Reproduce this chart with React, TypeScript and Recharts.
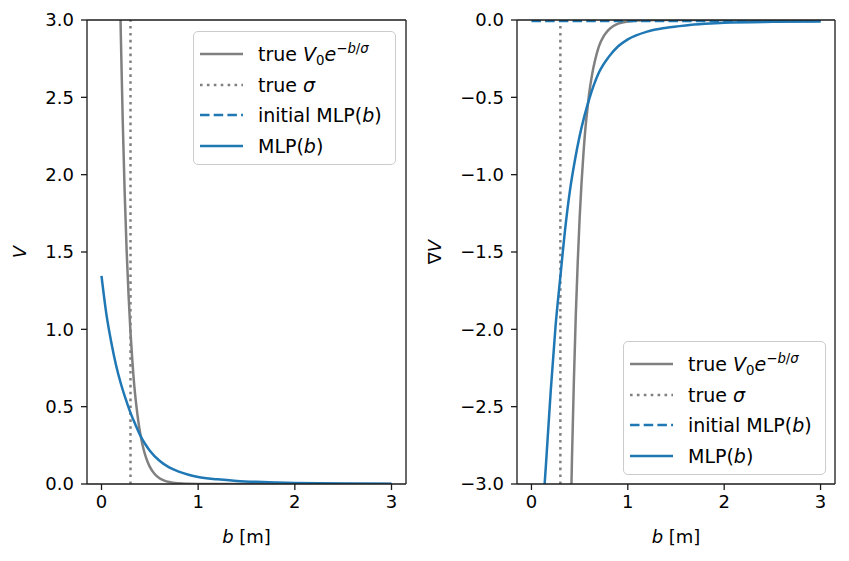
import React from 'react';
import { LineChart, Line, XAxis, YAxis, ReferenceLine, Legend, Label } from 'recharts';

const FONT = '"DejaVu Sans", Verdana, sans-serif';
const GRAY = '#808080';
const BLUE = '#1f77b4';
const AXIS = '#1a1a1a';

// ---------- ticks ----------
const bTicks = [0, 1, 2, 3];
const vTicks = [0, 0.5, 1, 1.5, 2, 2.5, 3];
const gradTicks = [-3, -2.5, -2, -1.5, -1, -0.5, 0];
const bDomain: [number, number] = [-0.15, 3.15];
const vDomain: [number, number] = [0, 3];
const gradDomain: [number, number] = [-3, 0];
const trueSigma = 0.3;

// ---------- left panel: V(b) ----------
const trueV_b = [0.18, 0.2, 0.22, 0.24, 0.26, 0.28, 0.3, 0.32, 0.34, 0.36, 0.38, 0.4, 0.43, 0.46, 0.5, 0.55, 0.6, 0.65, 0.7, 0.8, 0.9, 1.0, 1.5, 2.0, 2.5, 3.0];
const trueV_v = [3.61, 2.9, 2.34, 1.88, 1.51, 1.22, 0.98, 0.79, 0.63, 0.51, 0.41, 0.33, 0.238, 0.172, 0.111, 0.065, 0.0375, 0.022, 0.0127, 0.0043, 0.0015, 0.0005, 0, 0, 0, 0];

const mlpV_b = [0, 0.05, 0.1, 0.15, 0.2, 0.25, 0.3, 0.35, 0.4, 0.45, 0.5, 0.6, 0.7, 0.8, 0.9, 1.0, 1.2, 1.4, 1.6, 1.8, 2.0, 2.5, 3.0];
const mlpV_v = [1.345, 1.1, 0.92, 0.77, 0.65, 0.55, 0.46, 0.385, 0.315, 0.26, 0.215, 0.15, 0.107, 0.08, 0.06, 0.045, 0.03, 0.02, 0.014, 0.01, 0.007, 0.003, 0.001];

const initV_b = [0, 3.0];
const initV_v = [-0.01, -0.01];

// ---------- right panel: grad V(b) ----------
const trueG_b = [0.39, 0.4, 0.42, 0.44, 0.46, 0.48, 0.5, 0.52, 0.54, 0.56, 0.58, 0.6, 0.63, 0.66, 0.7, 0.75, 0.8, 0.85, 0.9, 1.0, 1.2, 1.5, 2.0, 3.0];
const trueG_v = [-3.85, -3.48, -2.85, -2.34, -1.91, -1.57, -1.28, -1.05, -0.86, -0.7, -0.58, -0.47, -0.35, -0.26, -0.17, -0.105, -0.064, -0.039, -0.023, -0.009, -0.001, 0, 0, 0];

const mlpG_b = [0, 0.05, 0.1, 0.15, 0.2, 0.25, 0.3, 0.35, 0.4, 0.45, 0.5, 0.55, 0.6, 0.7, 0.8, 0.9, 1.0, 1.2, 1.4, 1.6, 1.8, 2.0, 2.5, 3.0];
const mlpG_v = [-4.8, -4.0, -3.35, -2.88, -2.4, -1.98, -1.66, -1.35, -1.1, -0.91, -0.75, -0.62, -0.51, -0.34, -0.24, -0.17, -0.125, -0.075, -0.05, -0.035, -0.025, -0.018, -0.012, -0.01];

const initG_b = [0, 3.0];
const initG_v = [-0.006, -0.006];

type Pt = { b: number; v: number };
const zip = (bs: number[], vs: number[]): Pt[] => bs.map((b, i) => ({ b, v: vs[i] }));

const trueV = zip(trueV_b, trueV_v);
const mlpV = zip(mlpV_b, mlpV_v);
const initV = zip(initV_b, initV_v);
const trueG = zip(trueG_b, trueG_v);
const mlpG = zip(mlpG_b, mlpG_v);
const initG = zip(initG_b, initG_v);

// ---------- styles ----------
const LW = 2.5;
const DOTTED = '2.6 4.3';
const DASHED = '9.5 4.2';
const tickStyle = { fontSize: 18, fill: '#000', fontFamily: FONT };
const axisLineStyle = { stroke: AXIS, strokeWidth: 1.3 };

const fmtNum = (v: number) => (v < 0 ? '\u2212' : '') + Math.abs(v).toFixed(1);
const fmtInt = (v: number) => String(v);

// ---------- legend ----------
const I = ({ children }: { children: React.ReactNode }) => <span style={{ fontStyle: 'italic' }}>{children}</span>;
const supStyle: React.CSSProperties = { fontSize: '0.7em', position: 'relative', top: '-0.62em', lineHeight: 0 };
const subStyle: React.CSSProperties = { fontSize: '0.7em', position: 'relative', top: '0.28em', lineHeight: 0 };

type LegendItem = { color: string; dash?: string; label: React.ReactNode };
const legendItems: LegendItem[] = [
  {
    color: GRAY,
    label: (
      <>
        true <I>V</I>
        <span style={subStyle}>0</span>
        <I>e</I>
        <span style={supStyle}>
          {'\u2212'}
          <I>b</I>/<I>σ</I>
        </span>
      </>
    ),
  },
  { color: GRAY, dash: DOTTED, label: <>true <I>σ</I></> },
  { color: BLUE, dash: DASHED, label: <>initial MLP(<I>b</I>)</> },
  { color: BLUE, label: <>MLP(<I>b</I>)</> },
];
const rowCenters = [21.8, 52.5, 83.0, 113.5];

const LegendBox = () => (
  <div
    style={{
      position: 'relative',
      width: 203,
      height: 134,
      boxSizing: 'border-box',
      border: '1.3px solid #cccccc',
      borderRadius: 5,
      background: 'rgba(255,255,255,0.8)',
      fontFamily: FONT,
      fontSize: 19,
      color: '#000',
    }}
  >
    {legendItems.map((it, i) => (
      <div
        key={i}
        style={{
          position: 'absolute',
          left: 0,
          top: rowCenters[i] - 15,
          height: 30,
          display: 'flex',
          alignItems: 'center',
          whiteSpace: 'nowrap',
        }}
      >
        <svg width={43} height={6} style={{ marginLeft: 6, flex: 'none', display: 'block' }}>
          <line x1={0} y1={3} x2={43} y2={3} stroke={it.color} strokeWidth={LW} strokeDasharray={it.dash} />
        </svg>
        <span style={{ marginLeft: 15, lineHeight: '30px' }}>{it.label}</span>
      </div>
    ))}
  </div>
);

// ---------- axis labels ----------
const XLabelContent = (props: any) => {
  const vb = props.viewBox || { x: 0, y: 0, width: 0, height: 0 };
  return (
    <text x={vb.x + vb.width / 2} y={vb.y + 59} textAnchor="middle" fontSize={18} fontFamily={FONT} fill="#000">
      <tspan fontStyle="italic">b</tspan>
      <tspan>{' [m]'}</tspan>
    </text>
  );
};

const makeYLabel = (offsetX: number, grad: boolean) => (props: any) => {
  const vb = props.viewBox || { x: 0, y: 0, width: 0, height: 0 };
  const cx = vb.x + offsetX;
  const cy = vb.y + vb.height / 2;
  return (
    <text
      x={cx}
      y={cy}
      transform={`rotate(-90 ${cx} ${cy})`}
      textAnchor="middle"
      dy="0.36em"
      fontSize={18}
      fontFamily={FONT}
      fill="#000"
    >
      {grad ? <tspan>∇</tspan> : null}
      <tspan fontStyle="italic">V</tspan>
    </text>
  );
};

const H = 561;
const LEFT_W = 425;
const RIGHT_W = 424;

export default function App() {
  return (
    <div style={{ position: 'absolute', left: 0, top: 0, width: 849, height: H, background: '#fff', display: 'flex' }}>
      {/* Left panel */}
      <LineChart width={LEFT_W} height={H} margin={{ top: 20, right: 19, bottom: 0, left: 0 }}>
        <XAxis
          dataKey="b"
          type="number"
          domain={bDomain}
          allowDataOverflow
          ticks={bTicks}
          tickFormatter={fmtInt}
          height={77}
          tickSize={6}
          tickMargin={5}
          tick={tickStyle}
          axisLine={axisLineStyle}
          tickLine={axisLineStyle}
        >
          <Label content={XLabelContent} />
        </XAxis>
        <YAxis
          type="number"
          domain={vDomain}
          allowDataOverflow
          ticks={vTicks}
          tickFormatter={fmtNum}
          width={87}
          tickSize={6}
          tickMargin={7}
          tick={tickStyle}
          axisLine={axisLineStyle}
          tickLine={axisLineStyle}
        >
          <Label content={makeYLabel(20, false)} />
        </YAxis>
        <Line data={trueV} dataKey="v" type="monotone" stroke={GRAY} strokeWidth={LW} dot={false} activeDot={false} isAnimationActive={false} />
        <ReferenceLine x={trueSigma} stroke={GRAY} strokeWidth={LW} strokeDasharray={DOTTED} />
        <Line data={initV} dataKey="v" type="linear" stroke={BLUE} strokeWidth={LW} strokeDasharray={DASHED} dot={false} activeDot={false} isAnimationActive={false} />
        <Line data={mlpV} dataKey="v" type="monotone" stroke={BLUE} strokeWidth={LW} dot={false} activeDot={false} isAnimationActive={false} />
        <ReferenceLine y={vDomain[1]} stroke={AXIS} strokeWidth={1.3} />
        <ReferenceLine x={bDomain[1]} stroke={AXIS} strokeWidth={1.3} />
        <Legend
          layout="horizontal"
          verticalAlign="middle"
          align="center"
          content={() => <LegendBox />}
          wrapperStyle={{ left: 193, top: 31, width: 203, height: 134 }}
        />
      </LineChart>

      {/* Right panel */}
      <LineChart width={RIGHT_W} height={H} margin={{ top: 20, right: 14, bottom: 0, left: 0 }}>
        <XAxis
          dataKey="b"
          type="number"
          domain={bDomain}
          allowDataOverflow
          ticks={bTicks}
          tickFormatter={fmtInt}
          height={77}
          tickSize={6}
          tickMargin={5}
          tick={tickStyle}
          axisLine={axisLineStyle}
          tickLine={axisLineStyle}
        >
          <Label content={XLabelContent} />
        </XAxis>
        <YAxis
          type="number"
          domain={gradDomain}
          allowDataOverflow
          ticks={gradTicks}
          tickFormatter={fmtNum}
          width={92}
          tickSize={6}
          tickMargin={7}
          tick={tickStyle}
          axisLine={axisLineStyle}
          tickLine={axisLineStyle}
        >
          <Label content={makeYLabel(10, true)} />
        </YAxis>
        <Line data={trueG} dataKey="v" type="monotone" stroke={GRAY} strokeWidth={LW} dot={false} activeDot={false} isAnimationActive={false} />
        <ReferenceLine x={trueSigma} stroke={GRAY} strokeWidth={LW} strokeDasharray={DOTTED} />
        <Line data={initG} dataKey="v" type="linear" stroke={BLUE} strokeWidth={LW} strokeDasharray={DASHED} dot={false} activeDot={false} isAnimationActive={false} />
        <Line data={mlpG} dataKey="v" type="monotone" stroke={BLUE} strokeWidth={LW} dot={false} activeDot={false} isAnimationActive={false} />
        <ReferenceLine y={gradDomain[1]} stroke={AXIS} strokeWidth={1.3} />
        <ReferenceLine x={bDomain[1]} stroke={AXIS} strokeWidth={1.3} />
        <Legend
          layout="horizontal"
          verticalAlign="middle"
          align="center"
          content={() => <LegendBox />}
          wrapperStyle={{ left: 198, top: 341, width: 203, height: 134 }}
        />
      </LineChart>
    </div>
  );
}
